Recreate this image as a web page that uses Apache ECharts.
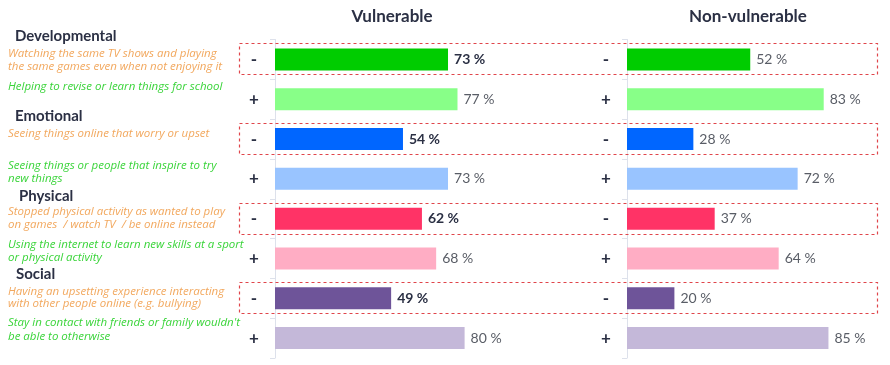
<!DOCTYPE html>
<html><head><meta charset="utf-8">
<script src="https://cdn.jsdelivr.net/npm/echarts@6/dist/echarts.min.js"></script>
<style>html,body{margin:0;padding:0;background:#fff}#c{width:890px;height:365px}</style>
</head><body><div id="c"></div>
<script>
// ---- data ----
const rowSigns = ['-', '+', '-', '+', '-', '+', '-', '+'];
const vulnerable = [73, 77, 54, 73, 62, 68, 49, 80];
const nonVulnerable = [52, 83, 28, 72, 37, 64, 20, 85];
const barColors = ['#00cc00', '#88ff88', '#0066ff', '#99c4ff', '#ff3366', '#ffadc4', '#6e5499', '#c4b8d9'];
const groupTitles = ['Vulnerable', 'Non-vulnerable'];
const sections = [
  { name: 'Developmental', y: 36, x: 15 },
  { name: 'Emotional', y: 116, x: 15 },
  { name: 'Physical', y: 196, x: 19 },
  { name: 'Social', y: 274, x: 16 }
];
const itemTexts = [
  ['Watching the same TV shows and playing', 'the same games even when not enjoying it'],
  ['Helping to revise or learn things for school'],
  ['Seeing things online that worry or upset'],
  ['Seeing things or people that inspire to try', 'new things'],
  ['Stopped physical activity as wanted to play', 'on games  / watch TV  / be online instead'],
  ['Using the internet to learn new skills at a sport', 'or physical activity'],
  ['Having an upsetting experience interacting', 'with other people online (e.g. bullying)'],
  ["Stay in contact with friends or family wouldn't", 'be able to otherwise']
];
const itemTextY = [[54, 67], [87], [134], [166, 179], [212, 225], [245, 258], [292, 304], [323, 337]];

const categories = rowSigns.map((s, i) => 'r' + i);
const dark = '#2b3044';

function seriesData(vals, boldNeg) {
  return vals.map((v, i) => {
    const neg = rowSigns[i] === '-';
    return {
      value: v,
      itemStyle: { color: barColors[i] },
      label: (boldNeg && neg) ? { fontWeight: 'bold', color: dark } : { fontWeight: 'normal', color: '#595d66' }
    };
  });
}

const chart = echarts.init(document.getElementById('c'));
const gridTop = 39.5, gridH = 318.5;
const yAxisCommon = (gi) => ({
  type: 'category', gridIndex: gi, data: categories, inverse: true,
  axisLine: { show: true, lineStyle: { color: '#dde1eb', width: 1 } },
  axisTick: { show: true, length: 5, lineStyle: { color: '#dde1eb' } },
  axisLabel: {
    show: true, margin: 21, align: 'center',
    formatter: (v, i) => rowSigns[i],
    fontFamily: 'Lato, sans-serif', fontWeight: 'bold', fontSize: 17, color: dark
  }
});
const labelCommon = {
  show: true, position: 'right', distance: 6,
  fontFamily: 'Lato, sans-serif', fontSize: 14,
  formatter: p => p.value + ' %'
};

const graphics = [];
sections.forEach(s => graphics.push({
  type: 'text', x: s.x, y: s.y,
  style: { text: s.name, font: 'bold 15px Lato, sans-serif', fill: dark, verticalAlign: 'middle', align: 'left' }
}));
itemTexts.forEach((lines, i) => {
  const neg = rowSigns[i] === '-';
  lines.forEach((t, j) => graphics.push({
    type: 'text', x: 8, y: itemTextY[i][j],
    style: { text: t, font: 'italic 11.5px "Open Sans", sans-serif', fill: neg ? '#f2a85e' : '#3ad43a', verticalAlign: 'middle', align: 'left' }
  }));
});

chart.setOption({
  animation: false,
  title: [
    { text: groupTitles[0], left: 387, top: 3, textAlign: 'center',
      textStyle: { fontFamily: 'Lato, sans-serif', fontWeight: 'bold', fontSize: 17, color: dark } },
    { text: groupTitles[1], left: 743, top: 3, textAlign: 'center',
      textStyle: { fontFamily: 'Lato, sans-serif', fontWeight: 'bold', fontSize: 17, color: dark } }
  ],
  grid: [
    { left: 275, width: 237, top: gridTop, height: gridH },
    { left: 627, width: 237, top: gridTop, height: gridH }
  ],
  xAxis: [
    { type: 'value', gridIndex: 0, min: 0, max: 100, show: false },
    { type: 'value', gridIndex: 1, min: 0, max: 100, show: false }
  ],
  yAxis: [yAxisCommon(0), yAxisCommon(1)],
  series: [
    { type: 'bar', xAxisIndex: 0, yAxisIndex: 0, barWidth: 22, data: seriesData(vulnerable, true), label: labelCommon, z: 3 },
    { type: 'bar', xAxisIndex: 1, yAxisIndex: 1, barWidth: 22, data: seriesData(nonVulnerable, false), label: labelCommon, z: 3 }
  ],
  graphic: graphics
});

// dashed boxes around negative rows, positioned from the category axis
const boxes = [];
rowSigns.forEach((s, i) => {
  if (s !== '-') return;
  const cy = chart.convertToPixel({ yAxisIndex: 0 }, categories[i]);
  boxes.push({
    type: 'rect', silent: true, z: 10,
    shape: { x: 239.5, y: Math.round(cy - 16) + 0.5, width: 638, height: 31 },
    style: { fill: 'none', stroke: '#e0454a', lineWidth: 1.2, lineDash: [3, 3] }
  });
});
chart.setOption({ graphic: graphics.concat(boxes) });
</script></body></html>
